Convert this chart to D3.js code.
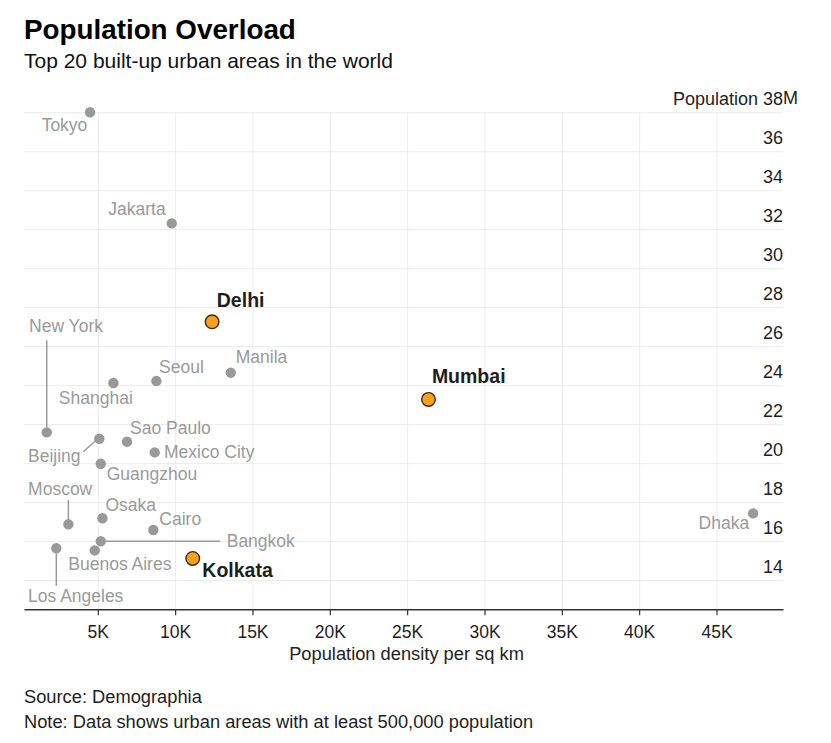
<!DOCTYPE html>
<html>
<head>
<meta charset="utf-8">
<script src="https://cdn.jsdelivr.net/npm/d3@7"></script>
<style>
  html, body { margin: 0; padding: 0; background: #fff; }
  svg { display: block; font-family: "Liberation Sans", Arial, Helvetica, sans-serif; }
</style>
</head>
<body>
<svg id="chart" width="831" height="743"></svg>
<script>
// ---- Data ----
const cities = ["Tokyo", "Jakarta", "Delhi", "Manila", "Seoul", "Shanghai", "Mumbai",
  "New York", "Beijing", "Sao Paulo", "Mexico City", "Guangzhou", "Moscow", "Osaka",
  "Cairo", "Bangkok", "Buenos Aires", "Los Angeles", "Kolkata", "Dhaka"];
// Population density per sq km
const density = [4500, 9780, 12390, 13600, 8790, 6010, 26380,
  1700, 5100, 6890, 8680, 5190, 3100, 5300,
  8590, 5190, 4800, 2320, 11140, 47370];
// Population, millions
const population = [38.0, 32.3, 27.25, 24.64, 24.21, 24.11, 23.27,
  21.58, 21.25, 21.1, 20.55, 19.97, 16.86, 17.17,
  16.57, 15.99, 15.52, 15.63, 15.11, 17.42];
const highlighted = ["Delhi", "Mumbai", "Kolkata"];
const xTicks = [5000, 10000, 15000, 20000, 25000, 30000, 35000, 40000, 45000];
const yTicks = [14, 16, 18, 20, 22, 24, 26, 28, 30, 32, 34, 36, 38];

const data = cities.map((c, i) => ({ city: c, density: density[i], pop: population[i], hi: highlighted.includes(c) }));

// ---- Layout / label placement (offsets from each dot, in px) ----
const L = 24, R = 783, T = 112.3, B = 609.3;
const labelPos = {
  "Tokyo":        { dx: -2.7, dy: 18.3, anchor: "end" },
  "Jakarta":      { dx: -6, dy: -8, anchor: "end" },
  "Delhi":        { dx: 4.7, dy: -15, anchor: "start" },
  "Manila":       { dx: 5, dy: -10, anchor: "start" },
  "Seoul":        { dx: 2.7, dy: -8.3, anchor: "start" },
  "Shanghai":     { dx: 19.4, dy: 21.3, anchor: "end" },
  "Mumbai":       { dx: 3.4, dy: -16, anchor: "start" },
  "New York":     { dx: -17.7, dy: -100, anchor: "start", leader: [[0, -92], [0, -5]] },
  "Beijing":      { dx: -71.3, dy: 23, anchor: "start", leader: [[-16, 13], [-3, 1.3]] },
  "Sao Paulo":    { dx: 3, dy: -7.7, anchor: "start" },
  "Mexico City":  { dx: 9.3, dy: 5.4, anchor: "start" },
  "Guangzhou":    { dx: 6, dy: 16.3, anchor: "start" },
  "Moscow":       { dx: -40.3, dy: -29.3, anchor: "start", leader: [[0, -24.3], [0, -5]] },
  "Osaka":        { dx: 3, dy: -7.6, anchor: "start" },
  "Cairo":        { dx: 6, dy: -5, anchor: "start" },
  "Bangkok":      { dx: 126, dy: 5.4, anchor: "start", leader: [[5, 0], [119.3, 0]] },
  "Buenos Aires": { dx: -26.4, dy: 19.7, anchor: "start" },
  "Los Angeles":  { dx: -28.3, dy: 53.4, anchor: "start", leader: [[0, 5], [0, 37.4]] },
  "Kolkata":      { dx: 9.6, dy: 19, anchor: "start" },
  "Dhaka":        { dx: -4, dy: 16, anchor: "end" }
};

const svg = d3.select("#chart");
const x = d3.scaleLinear().domain([230, 49300]).range([L, R]);
const y = d3.scaleLinear().domain([12.5, 38]).range([B, T]);

const GRID = "#ebebeb", INK = "#1e1e1e", GREY = "#999999", GREY_TXT = "#9a9a9a";

// Title
svg.append("text").attr("x", 24).attr("y", 39).attr("font-size", 27.8).attr("font-weight", "bold")
  .attr("fill", "#000").text("Population Overload");
svg.append("text").attr("x", 24).attr("y", 67.5).attr("font-size", 21)
  .attr("fill", "#111").text("Top 20 built-up urban areas in the world");

// Vertical gridlines
svg.append("g").attr("transform", `translate(0,${B})`)
  .call(d3.axisBottom(x).tickValues(xTicks).tickSize(-(B - T)).tickFormat(""))
  .call(g => g.select(".domain").remove())
  .call(g => g.selectAll(".tick line").attr("stroke", GRID).attr("stroke-width", 1));

// Horizontal gridlines + y labels
const yAxis = svg.append("g").attr("transform", `translate(${L},0)`)
  .call(d3.axisLeft(y).tickValues(yTicks).tickSize(-(R - L))
    .tickFormat(d => d === 38 ? "Population 38" : String(d)))
  .call(g => g.select(".domain").remove())
  .call(g => g.selectAll(".tick line").attr("stroke", GRID).attr("stroke-width", 1));
yAxis.selectAll(".tick text")
  .attr("x", R - L).attr("dy", -8).attr("text-anchor", "end")
  .attr("font-size", 18).attr("fill", INK).attr("font-family", null);
svg.append("text").attr("x", R).attr("y", y(38) - 8).attr("font-size", 18).attr("fill", INK).text("M");

// X axis
const xAxis = svg.append("g").attr("transform", `translate(0,${B})`)
  .call(d3.axisBottom(x).tickValues(xTicks).tickSize(6).tickSizeOuter(0).tickPadding(10)
    .tickFormat(d => (d / 1000) + "K"));
xAxis.select(".domain").attr("stroke", "#333").attr("stroke-width", 1.5);
xAxis.selectAll(".tick line").attr("stroke", "#333").attr("stroke-width", 1.2);
xAxis.selectAll(".tick text").attr("font-size", 17.5).attr("fill", INK).attr("font-family", null);

svg.append("text").attr("x", (L + R) / 2 + 3).attr("y", 660).attr("text-anchor", "middle")
  .attr("font-size", 18.3).attr("fill", INK).text("Population density per sq km");

// Leaders
const leaders = svg.append("g");
data.forEach(d => {
  const p = labelPos[d.city];
  if (p && p.leader) {
    const cx = x(d.density), cy = y(d.pop);
    leaders.append("line")
      .attr("x1", cx + p.leader[0][0]).attr("y1", cy + p.leader[0][1])
      .attr("x2", cx + p.leader[1][0]).attr("y2", cy + p.leader[1][1])
      .attr("stroke", GREY).attr("stroke-width", 1.5);
  }
});

// Dots
svg.append("g").selectAll("circle").data(data.filter(d => !d.hi)).join("circle")
  .attr("cx", d => x(d.density)).attr("cy", d => y(d.pop)).attr("r", 5.2)
  .attr("fill", GREY);
svg.append("g").selectAll("circle").data(data.filter(d => d.hi)).join("circle")
  .attr("cx", d => x(d.density)).attr("cy", d => y(d.pop)).attr("r", 6.8)
  .attr("fill", "#f7a01e").attr("stroke", "#3a2a12").attr("stroke-width", 1.4);

// Labels
svg.append("g").selectAll("text").data(data).join("text")
  .attr("x", d => x(d.density) + labelPos[d.city].dx)
  .attr("y", d => y(d.pop) + labelPos[d.city].dy)
  .attr("text-anchor", d => labelPos[d.city].anchor)
  .attr("font-size", d => d.hi ? 19.5 : 17.5)
  .attr("font-weight", d => d.hi ? "bold" : "normal")
  .attr("fill", d => d.hi ? INK : GREY_TXT)
  .text(d => d.city);

// Footer
svg.append("text").attr("x", 24).attr("y", 702.5).attr("font-size", 18.3).attr("fill", INK).text("Source: Demographia");
svg.append("text").attr("x", 24).attr("y", 728.3).attr("font-size", 18.3).attr("fill", INK)
  .text("Note: Data shows urban areas with at least 500,000 population");
</script>
</body>
</html>
